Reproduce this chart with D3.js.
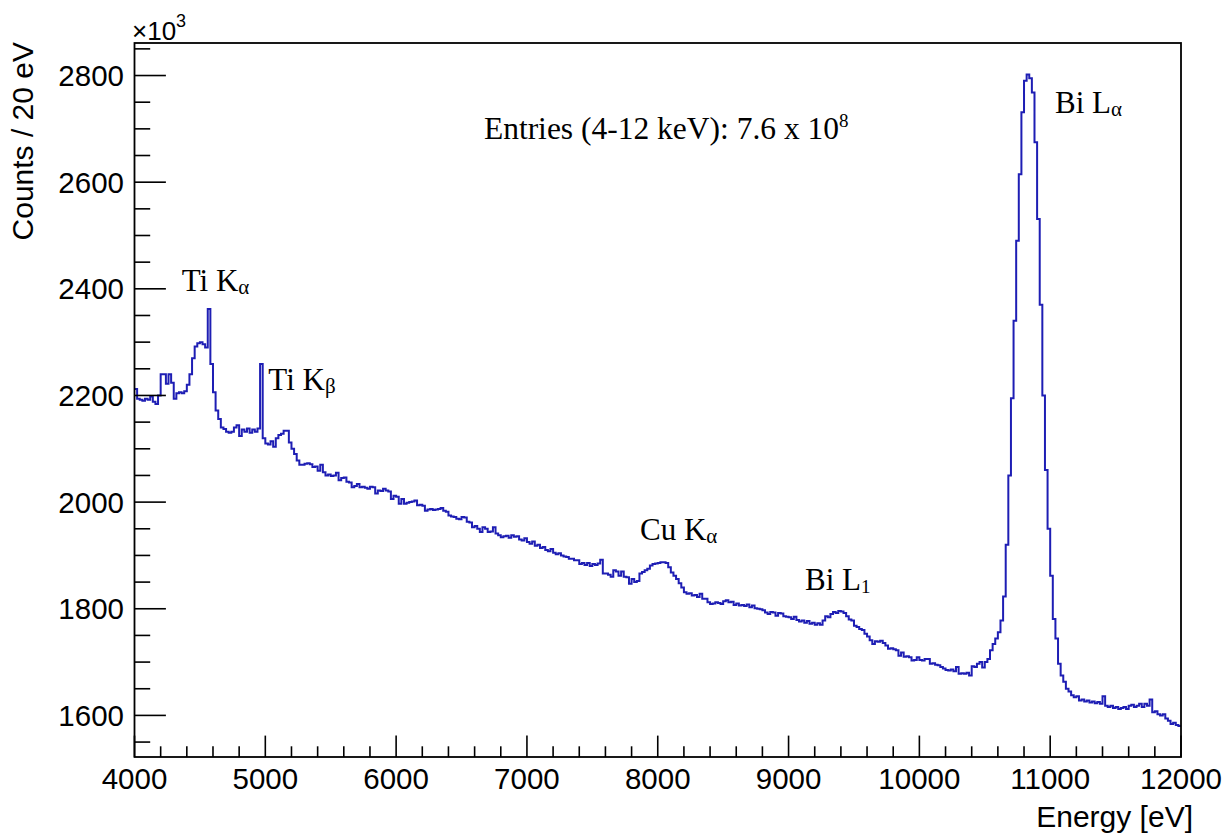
<!DOCTYPE html>
<html><head><meta charset="utf-8">
<script src="https://cdn.jsdelivr.net/npm/d3@7"></script>
<style>body{margin:0;background:#fff}</style>
</head><body>
<svg id="c" width="1224" height="834"></svg>
<script>
// ---- data (counts in units of 10^3 per 20 eV bin) ----
const binLow = 4000;
const binWidth = 20;
const counts = [
2212,2194,2192,2190,2194,2192,2198,2188,2184,2200,
2240,2240,2222,2240,2224,2194,2204,2206,2204,2208,
2220,2240,2270,2292,2298,2300,2296,2290,2362,2259,
2206,2172,2156,2140,2137,2132,2130,2132,2140,2144,
2124,2136,2132,2138,2130,2136,2132,2138,2259,2120,
2110,2108,2114,2104,2120,2126,2128,2134,2134,2112,
2100,2090,2078,2070,2070,2072,2073,2071,2066,2067,
2059,2070,2056,2050,2052,2049,2050,2055,2041,2045,
2046,2038,2037,2028,2030,2034,2028,2029,2027,2025,
2029,2028,2016,2022,2021,2025,2022,2020,2006,2012,
2010,1997,2006,1997,1999,2000,2001,2003,1994,1995,
1993,1984,1986,1987,1985,1986,1987,1989,1984,1982,
1975,1973,1972,1969,1968,1972,1971,1963,1962,1953,
1955,1950,1944,1953,1950,1944,1945,1953,1941,1938,
1934,1936,1937,1933,1938,1935,1936,1930,1928,1932,
1925,1922,1926,1918,1920,1914,1916,1910,1908,1912,
1905,1902,1904,1900,1898,1897,1894,1894,1891,1891,
1884,1886,1882,1886,1880,1884,1882,1885,1892,1866,
1866,1864,1860,1872,1870,1862,1870,1860,1859,1847,
1856,1850,1852,1866,1869,1872,1875,1881,1884,1885,
1886,1887,1887,1886,1878,1868,1862,1856,1848,1840,
1831,1828,1829,1825,1826,1822,1828,1819,1819,1812,
1809,1810,1812,1811,1809,1814,1816,1812,1813,1807,
1810,1806,1807,1805,1808,1803,1806,1801,1800,1799,
1797,1793,1790,1794,1793,1787,1792,1791,1786,1785,
1784,1781,1785,1779,1776,1778,1774,1777,1772,1774,
1770,1773,1770,1778,1786,1784,1790,1794,1792,1796,
1795,1792,1786,1780,1778,1768,1766,1762,1760,1753,
1748,1741,1734,1739,1738,1740,1736,1731,1725,1726,
1724,1722,1712,1718,1710,1711,1709,1703,1704,1709,
1704,1703,1706,1706,1697,1698,1695,1694,1691,1688,
1685,1684,1686,1683,1691,1678,1679,1678,1680,1675,
1692,1691,1697,1700,1690,1700,1706,1722,1734,1744,
1756,1778,1823,1920,2050,2195,2340,2490,2615,2731,
2790,2802,2795,2768,2675,2531,2370,2200,2060,1950,
1862,1781,1744,1697,1675,1663,1650,1645,1638,1634,
1636,1628,1630,1626,1628,1624,1626,1623,1625,1622,
1636,1618,1616,1618,1614,1616,1612,1614,1616,1612,
1618,1620,1616,1618,1622,1616,1622,1618,1630,1606,
1608,1602,1600,1602,1594,1590,1584,1586,1582,1580
];
const xTickValues = [4000,5000,6000,7000,8000,9000,10000,11000,12000];
const yTickValues = [1600,1800,2000,2200,2400,2600,2800];
const xTitle = "Energy [eV]";
const yTitle = "Counts / 20 eV";
const peakNames = ["Ti K","Ti K","Cu K","Bi L","Bi L"];
const peakSubs  = ["α","β","α","1","α"];
const entriesText = "Entries (4-12 keV): 7.6 x 10";
const entriesExp = "8";

// ---- scales ----
const L = 134.5, R = 1181, T = 43, B = 757;
const x = d3.scaleLinear().domain([4000, 12000]).range([L, R]);
const y = d3.scaleLinear().domain([1522, 2861]).range([B, T]);
const svg = d3.select("#c");
svg.append("rect").attr("width",1224).attr("height",834).attr("fill","#fff");

const sans = "'Liberation Sans', Arial, Helvetica, sans-serif";
const serif = "'Liberation Serif', 'Times New Roman', serif";

// histogram
const pts = counts.map((c,i)=>[binLow + i*binWidth, c]);
pts.push([binLow + counts.length*binWidth, counts[counts.length-1]]);
const line = d3.line().x(d=>x(d[0])).y(d=>y(d[1])).curve(d3.curveStepAfter);
svg.append("path").attr("d", line(pts)).attr("fill","none")
  .attr("stroke","#1e1eb4").attr("stroke-width",2);

// frame
svg.append("rect").attr("x",L).attr("y",T).attr("width",R-L).attr("height",B-T)
  .attr("fill","none").attr("stroke","#000").attr("stroke-width",1.8);

// ticks
const xMinor = d3.range(4000, 12001, 200).filter(v=>!xTickValues.includes(v));
const xMajLen = 21.4, xMinLen = 10.7, yMajLen = 31.4, yMinLen = 15.7;
const g = svg.append("g").attr("stroke","#000").attr("stroke-width",1.6);
xTickValues.forEach(v=>g.append("line").attr("x1",x(v)).attr("x2",x(v)).attr("y1",B).attr("y2",B-xMajLen));
xMinor.forEach(v=>g.append("line").attr("x1",x(v)).attr("x2",x(v)).attr("y1",B).attr("y2",B-xMinLen));
const yMinor = d3.range(1550, 2861, 50).filter(v=>!yTickValues.includes(v));
yTickValues.forEach(v=>g.append("line").attr("y1",y(v)).attr("y2",y(v)).attr("x1",L).attr("x2",L+yMajLen));
yMinor.forEach(v=>g.append("line").attr("y1",y(v)).attr("y2",y(v)).attr("x1",L).attr("x2",L+yMinLen));

// tick labels
svg.append("g").selectAll("text").data(xTickValues).join("text")
  .attr("x",d=>x(d)).attr("y",789).attr("text-anchor","middle")
  .attr("font-family",sans).attr("font-size",29.5).text(d=>d);
svg.append("g").selectAll("text").data(yTickValues).join("text")
  .attr("x",124).attr("y",d=>y(d)).attr("dy","0.36em").attr("text-anchor","end")
  .attr("font-family",sans).attr("font-size",29.5).text(d=>d);

// axis titles
svg.append("text").attr("x",1193).attr("y",827).attr("text-anchor","end")
  .attr("font-family",sans).attr("font-size",30).text(xTitle);
svg.append("text").attr("transform","translate(33,42) rotate(-90)").attr("text-anchor","end")
  .attr("font-family",sans).attr("font-size",30).text(yTitle);

// x10^3 multiplier
const mult = svg.append("text").attr("x",132).attr("y",40).attr("font-family",sans).attr("font-size",26);
mult.append("tspan").text("×10");
mult.append("tspan").attr("font-size",18).attr("dy",-13).text("3");

// peak annotations (anchored in data coordinates)
const annPos = [[4361,2396],[5023,2210],[7864,1929],[9126,1835],[11037,2729]];
peakNames.forEach((nm,i)=>{
  const t = svg.append("text").attr("x",x(annPos[i][0])).attr("y",y(annPos[i][1]))
    .attr("font-family",serif).attr("font-size",31).attr("fill","#000");
  t.append("tspan").text(nm);
  t.append("tspan").attr("font-size", peakSubs[i]==="1"?19:21).attr("dy",3).text(peakSubs[i]);
});
const et = svg.append("text").attr("x",x(6671)).attr("y",y(2681))
  .attr("font-family",serif).attr("font-size",31.5).attr("fill","#000");
et.append("tspan").text(entriesText);
et.append("tspan").attr("font-size",19).attr("dy",-12).text(entriesExp);
</script>
</body></html>
